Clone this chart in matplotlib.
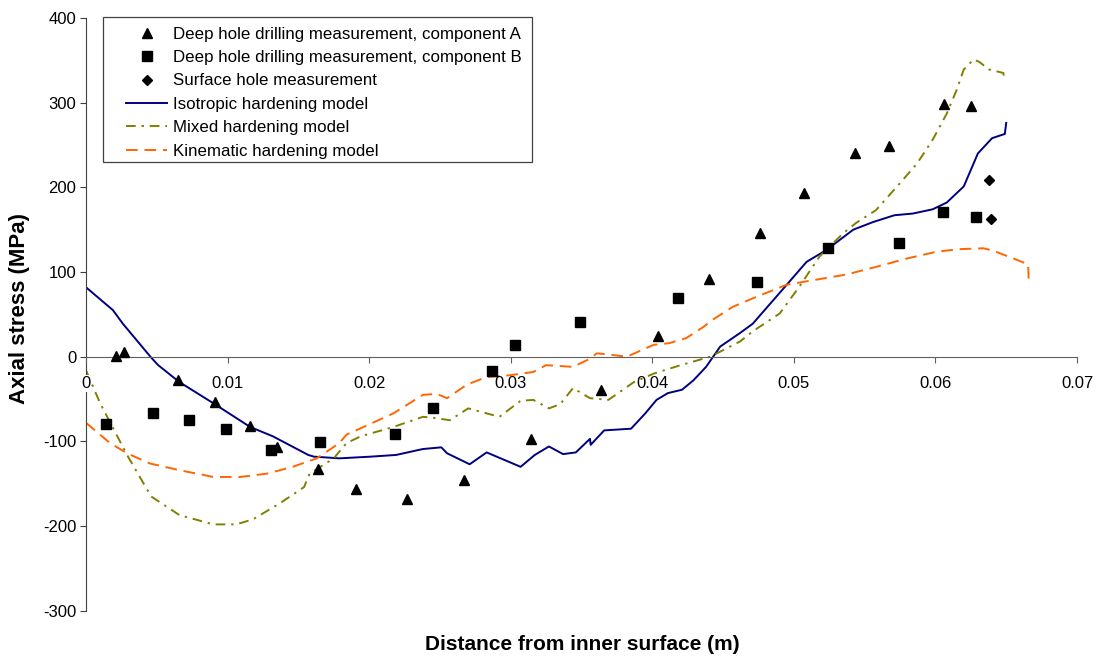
import matplotlib
matplotlib.use("Agg")
import matplotlib.pyplot as plt
from matplotlib.patches import Rectangle

plt.rcParams['font.family'] = ['Liberation Sans', 'DejaVu Sans']
plt.rcParams['axes.unicode_minus'] = False

# measured points
comp_a_x = [0.0021, 0.0027, 0.0065, 0.0091, 0.0116, 0.0135, 0.0164, 0.0191, 0.0227,
            0.0267, 0.0314, 0.0364, 0.0404, 0.0440, 0.0476, 0.0507, 0.0543, 0.0567,
            0.0606, 0.0625]
comp_a_y = [1, 6, -28, -54, -82, -107, -133, -156, -168, -146, -97, -39, 24, 92,
            146, 193, 241, 249, 298, 296]

comp_b_x = [0.0014, 0.0047, 0.0073, 0.0099, 0.0131, 0.0165, 0.0218, 0.0245, 0.0287,
            0.0303, 0.0349, 0.0418, 0.0474, 0.0524, 0.0574, 0.0605, 0.0629]
comp_b_y = [-80, -66, -75, -85, -110, -101, -91, -61, -17, 14, 41, 69, 88, 128,
            134, 171, 165]

surface_x = [0.0638, 0.0639]
surface_y = [209, 163]

# model curves
iso_x = [0.0, 0.0019, 0.0026, 0.0046, 0.0051, 0.0066, 0.0090, 0.0116, 0.0132, 0.0157,
         0.0161, 0.0179, 0.0201, 0.0219, 0.0238, 0.0251, 0.0255, 0.0271, 0.0283,
         0.0307, 0.0317, 0.0327, 0.0337, 0.0346, 0.0356, 0.03565, 0.0366, 0.0385,
         0.0395, 0.0403, 0.0411, 0.0421, 0.0429, 0.0438, 0.0448, 0.0462, 0.0471,
         0.0495, 0.0509, 0.0523, 0.0542, 0.0556, 0.0571, 0.0584, 0.0598, 0.0608,
         0.0620, 0.0630, 0.0640, 0.0649, 0.0650]
iso_y = [82, 55, 39, -1, -10, -30, -55, -83, -94, -116, -118, -120, -118, -116, -109,
         -107, -114, -127, -113, -130, -116, -106, -115, -113, -97, -104, -87, -85,
         -67, -51, -43, -39, -28, -12, 12, 28, 39, 85, 112, 126, 150, 159, 167, 169,
         174, 182, 201, 240, 258, 263, 276]

mixed_x = [0.0, 0.0010, 0.0029, 0.0046, 0.0066, 0.0090, 0.0106, 0.0118, 0.0137, 0.0154,
           0.0158, 0.0175, 0.0184, 0.0194, 0.0217, 0.0238, 0.0245, 0.0257, 0.0270,
           0.0292, 0.0307, 0.0316, 0.0327, 0.0335, 0.0344, 0.0356, 0.0369, 0.0387,
           0.0401, 0.0420, 0.0441, 0.0462, 0.0471, 0.0490, 0.0504, 0.0518, 0.0535,
           0.0544, 0.0558, 0.0575, 0.0587, 0.0598, 0.0608, 0.0615, 0.0620, 0.0627,
           0.0631, 0.0638, 0.0648, 0.06485]
mixed_y = [-16, -55, -116, -165, -187, -198, -198, -192, -173, -154, -138, -120, -102,
           -94, -83, -71, -72, -75, -61, -71, -52, -51, -61, -56, -37, -49, -51, -30,
           -20, -10, 0, 18, 30, 51, 83, 118, 146, 158, 173, 205, 228, 256, 287, 315,
           339, 351, 348, 339, 335, 329]

kin_x = [0.0, 0.0017, 0.0029, 0.0045, 0.0066, 0.0090, 0.0109, 0.0128, 0.0146, 0.0163,
         0.0179, 0.0184, 0.0196, 0.0217, 0.0238, 0.0248, 0.0255, 0.0269, 0.0283,
         0.0299, 0.0316, 0.0325, 0.0344, 0.0354, 0.0361, 0.0372, 0.0382, 0.0401,
         0.0412, 0.0424, 0.0436, 0.0443, 0.0457, 0.0474, 0.0495, 0.0516, 0.0537,
         0.0558, 0.0580, 0.0601, 0.0617, 0.0634, 0.0641, 0.0655, 0.06655, 0.0666]
kin_y = [-78, -102, -114, -126, -134, -142, -142, -138, -130, -120, -102, -92, -83,
         -67, -45, -44, -49, -33, -24, -22, -18, -10, -12, -4, 4, 2, 0, 14, 16, 22,
         35, 44, 59, 71, 85, 91, 97, 106, 116, 124, 127, 128, 125, 116, 109, 85]

x_ticks = [0, 0.01, 0.02, 0.03, 0.04, 0.05, 0.06, 0.07]
x_tick_labels = ['0', '0.01', '0.02', '0.03', '0.04', '0.05', '0.06', '0.07']
y_ticks = [-300, -200, -100, 0, 100, 200, 300, 400]
y_tick_labels = ['-300', '-200', '-100', '0', '100', '200', '300', '400']

W, H = 1102, 656
fig = plt.figure(figsize=(W / 100, H / 100), dpi=100)
ax = fig.add_axes([86 / W, (H - 610.8) / H, (1077 - 86) / W, (610.8 - 17.9) / H])

ax.plot(comp_a_x, comp_a_y, linestyle='none', marker='^', color='black', ms=7.5,
        zorder=4, label='Deep hole drilling measurement, component A')
ax.plot(comp_b_x, comp_b_y, linestyle='none', marker='s', color='black', ms=7,
        zorder=4, label='Deep hole drilling measurement, component B')
ax.plot(surface_x, surface_y, linestyle='none', marker='D', color='black', ms=5.5,
        zorder=4, label='Surface hole measurement')
ax.plot(iso_x, iso_y, color='#000080', lw=1.4, label='Isotropic hardening model')
ax.plot(mixed_x, mixed_y, color='#808000', lw=1.4, linestyle=(0, (5, 3, 1.2, 3)),
        label='Mixed hardening model')
ax.plot(kin_x, kin_y, color='#FF6600', lw=1.4, linestyle=(0, (6, 3.5)),
        label='Kinematic hardening model')

ax.set_xlim(0, 0.07)
ax.set_ylim(-300, 400)
ax.spines['top'].set_visible(False)
ax.spines['right'].set_visible(False)
ax.spines['bottom'].set_position(('data', 0))
ax.spines['bottom'].set_color('#606060')
ax.spines['left'].set_color('#404040')
ax.set_xticks(x_ticks)
ax.set_xticklabels(x_tick_labels)
ax.set_yticks(y_ticks)
ax.set_yticklabels(y_tick_labels)
ax.tick_params(axis='x', direction='out', length=4, color='#606060', pad=10, labelsize=12)
ax.tick_params(axis='y', direction='out', length=4, color='#404040', pad=3, labelsize=12)
# the "0" under the origin sits on top of the left spine
ax.xaxis.set_zorder(3)
ax.get_xticklabels()[0].set_bbox(dict(facecolor='white', edgecolor='none', pad=0.5))

fig.text(582 / W, 1 - 644 / H, 'Distance from inner surface (m)', ha='center', va='center',
         fontsize=15, fontweight='bold')
fig.text(20 / W, 1 - 308 / H, 'Axial stress (MPa)', ha='center', va='center',
         rotation=90, fontsize=16, fontweight='bold')

leg = ax.legend(loc='upper left', bbox_to_anchor=(126 / W, 1 - 26.5 / H),
                bbox_transform=fig.transFigure, frameon=False, borderpad=0,
                borderaxespad=0, fontsize=12.2, handlelength=2.42, handletextpad=0.33,
                labelspacing=0.5)
fig.patches.append(Rectangle((103 / W, 1 - 162 / H), 429 / W, 145 / H,
                             transform=fig.transFigure, fill=False,
                             edgecolor='#404040', lw=0.9))

fig.savefig('out.png', dpi=100)
